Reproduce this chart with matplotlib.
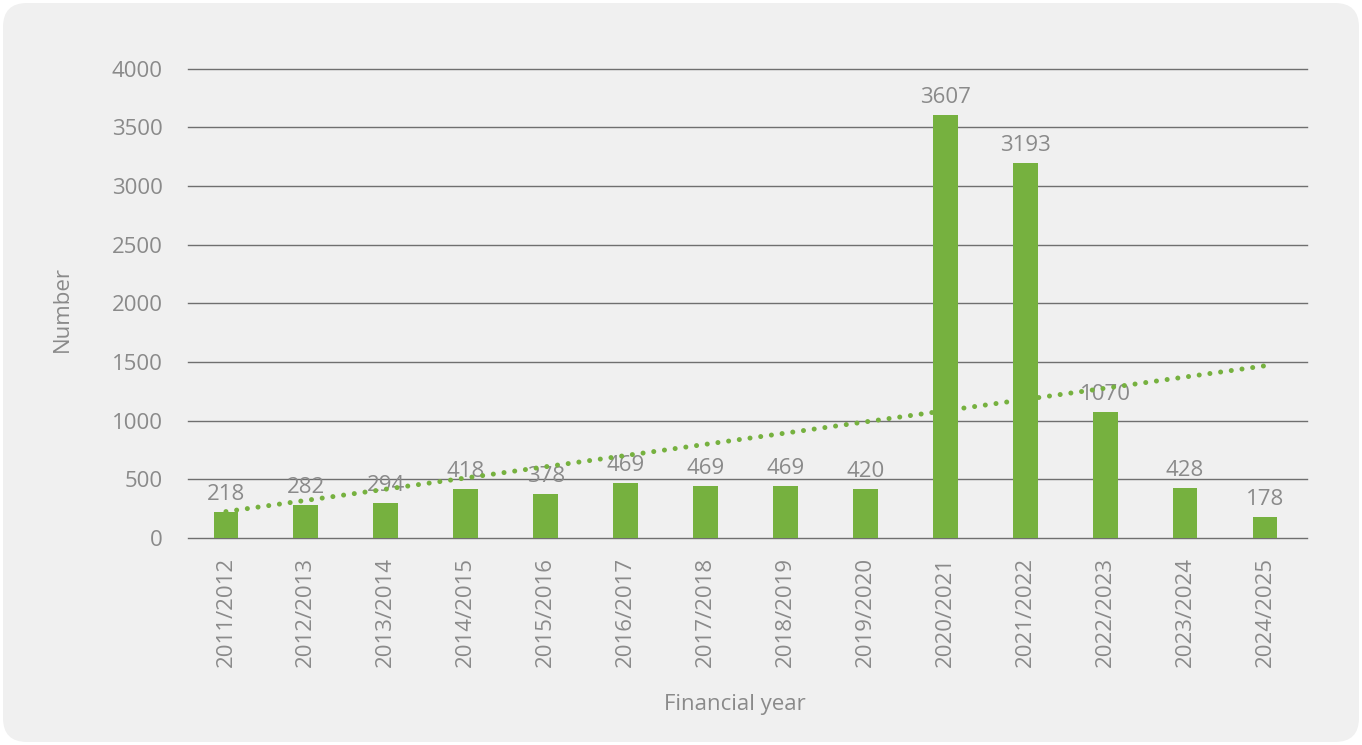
"""
Bar chart of yearly numbers with a linear trend line
"""

import matplotlib
matplotlib.use('Agg')
import matplotlib.pyplot as plt
import matplotlib.transforms as mtransforms
from matplotlib.patches import FancyBboxPatch
import numpy as np

# Data
years = ['2011/2012', '2012/2013', '2013/2014', '2014/2015', '2015/2016',
         '2016/2017', '2017/2018', '2018/2019', '2019/2020', '2020/2021',
         '2021/2022', '2022/2023', '2023/2024', '2024/2025']
# bar heights as drawn
counts = [218, 282, 294, 418, 378, 469, 440, 440, 420, 3607, 3193, 1070, 428, 178]
# labels as printed above the bars
count_labels = ['218', '282', '294', '418', '378', '469', '469', '469', '420',
                '3607', '3193', '1070', '428', '178']
y_ticks = [0, 500, 1000, 1500, 2000, 2500, 3000, 3500, 4000]

green = '#76b13f'
grey_text = '#8a8a8a'
grid_col = '#6f6f6f'
fs = 16

plt.rcParams['font.family'] = ['Open Sans', 'DejaVu Sans']

fig = plt.figure(figsize=(13.62, 7.45), dpi=100)
fig.patch.set_facecolor('white')

# Light grey rounded panel behind everything
panel = FancyBboxPatch((3, 3), 1356, 739,
                       boxstyle='round,pad=0,rounding_size=24',
                       transform=mtransforms.IdentityTransform(),
                       facecolor='#f0f0f0', edgecolor='none', zorder=-10)
fig.patches.append(panel)

ax = fig.add_axes([0.138, 0.278, 0.8216, 0.63])
ax.set_facecolor('none')

x = np.arange(len(years))
ax.bar(x, counts, width=0.31, color=green, zorder=3)

# Bar labels
for xi, h, lab in zip(x, counts, count_labels):
    ax.annotate(lab, (xi, h), xytext=(0, 5), textcoords='offset points',
                ha='center', va='bottom', fontsize=fs, color=grey_text,
                zorder=4)

# Linear trend line
slope, intercept = np.polyfit(x, counts, 1)
ax.plot(x, slope * x + intercept, color=green, linewidth=3.6,
        linestyle=(0, (0.01, 2.15)), dash_capstyle='round', zorder=5)

# Axes, grid
ax.set_xlim(-0.475, len(years) - 0.475)
ax.set_ylim(0, 4000)
ax.set_yticks(y_ticks)
ax.set_xticks(x)
ax.set_xticklabels(years, rotation=90)
ax.tick_params(axis='both', length=0, labelsize=fs, labelcolor=grey_text)
ax.tick_params(axis='y', pad=18)
ax.tick_params(axis='x', pad=14)
ax.yaxis.grid(True, color=grid_col, linewidth=1.0, zorder=1)
for gl in ax.yaxis.get_gridlines():
    gl.set_clip_on(False)
ax.set_axisbelow(True)
for spine in ax.spines.values():
    spine.set_visible(False)

# Axis titles
fig.text(0.5396, 0.0537, 'Financial year', ha='center', va='center',
         fontsize=fs, color=grey_text)
fig.text(0.0455, 0.585, 'Number', ha='center', va='center', rotation=90,
         fontsize=fs, color=grey_text)

fig.savefig('out.png', dpi=100)
